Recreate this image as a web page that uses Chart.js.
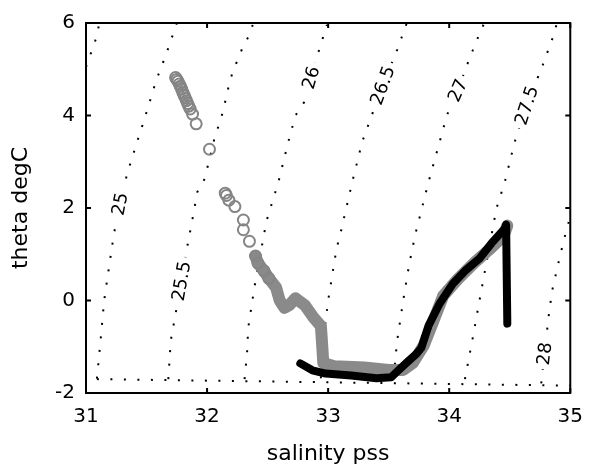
<!DOCTYPE html>
<html>
<head>
<meta charset="utf-8">
<script src="https://cdn.jsdelivr.net/npm/chart.js@4"></script>
<style>
  html, body { margin: 0; padding: 0; background: #fff; }
  #ts { display: block; }
</style>
</head>
<body>
<canvas id="ts" width="595" height="468"></canvas>
<script>
// T-S diagram: theta vs salinity with sigma-theta isopycnals

const xTicks = [31, 32, 33, 34, 35];
const yTicks = [-2, 0, 2, 4, 6];

// gray open circles (upper part of profile)
const circSal   = [31.74, 31.75, 31.76, 31.77, 31.78, 31.79, 31.80, 31.81, 31.82, 31.83, 31.84, 31.85, 31.86, 31.88, 31.91, 32.02, 32.15, 32.16, 32.18, 32.23, 32.30, 32.30, 32.35, 32.40, 32.42, 32.47, 32.51];
const circTheta = [4.82, 4.78, 4.74, 4.68, 4.63, 4.57, 4.50, 4.44, 4.38, 4.32, 4.26, 4.20, 4.14, 4.03, 3.82, 3.27, 2.32, 2.27, 2.17, 2.03, 1.74, 1.53, 1.28, 0.96, 0.81, 0.64, 0.48];

// gray dense band (lower part of profile)
const bandSal   = [32.40, 32.42, 32.47, 32.51, 32.57, 32.60, 32.64, 32.68, 32.73, 32.81, 32.88, 32.94, 32.95, 32.96, 33.05, 33.30, 33.50, 33.62, 33.70, 33.79, 33.87, 33.95, 34.07, 34.21, 34.33, 34.45, 34.48];
const bandTheta = [0.96, 0.81, 0.64, 0.48, 0.28, 0.00, -0.16, -0.10, 0.05, -0.11, -0.37, -0.55, -0.93, -1.35, -1.42, -1.45, -1.50, -1.50, -1.35, -0.97, -0.44, 0.10, 0.46, 0.82, 1.10, 1.40, 1.62];

// black profile
const blackSal   = [32.77, 32.87, 32.98, 33.19, 33.40, 33.52, 33.58, 33.65, 33.73, 33.77, 33.83, 33.92, 34.03, 34.13, 34.25, 34.35, 34.46, 34.47, 34.48];
const blackTheta = [-1.36, -1.51, -1.58, -1.62, -1.68, -1.66, -1.51, -1.34, -1.15, -1.02, -0.54, -0.07, 0.36, 0.64, 0.91, 1.24, 1.56, 1.64, -0.50];

// isopycnals
const isoNames = ["24.5", "25", "25.5", "26", "26.5", "27", "27.5", "28", "freeze"];
const isoSal = [
  [31.00, 31.05, 31.09, 31.11],
  [31.09, 31.12, 31.15, 31.19, 31.23, 31.28, 31.34, 31.41, 31.48, 31.58, 31.66, 31.75],
  [31.68, 31.70, 31.74, 31.84, 31.88, 31.92, 31.98, 32.06, 32.13, 32.18, 32.21, 32.30, 32.36, 32.38],
  [32.31, 32.33, 32.34, 32.39, 32.49, 32.59, 32.67, 32.73, 32.80, 32.91, 32.99],
  [32.94, 32.96, 33.00, 33.07, 33.10, 33.20, 33.28, 33.36, 33.45, 33.57, 33.65],
  [33.54, 33.57, 33.62, 33.67, 33.72, 33.83, 33.92, 33.98, 34.07, 34.17, 34.26, 34.29],
  [34.13, 34.19, 34.25, 34.31, 34.39, 34.46, 34.54, 34.64, 34.78, 34.86, 34.89],
  [34.76, 34.82, 34.85, 34.90, 34.95, 35.00],
  [31.09, 35.00]
];
const isoTheta = [
  [5.05, 5.42, 5.72, 6.00],
  [-1.69, -0.87, 0.00, 0.72, 1.43, 2.09, 2.74, 3.33, 3.90, 4.76, 5.31, 6.00],
  [-1.70, -0.87, -0.29, 1.21, 1.77, 2.35, 2.63, 3.49, 4.07, 4.65, 4.93, 5.51, 5.79, 6.00],
  [-1.70, -1.15, -0.59, 0.27, 1.71, 2.57, 3.42, 4.00, 4.28, 5.29, 5.96],
  [-1.68, -0.87, 0.00, 1.13, 1.43, 2.57, 3.42, 4.00, 4.65, 5.42, 6.00],
  [-1.68, -0.87, 0.00, 0.79, 1.43, 2.57, 3.42, 4.00, 4.54, 5.25, 5.83, 6.00],
  [-1.70, -0.87, 0.00, 0.85, 1.99, 2.57, 3.42, 4.22, 5.14, 5.72, 6.00],
  [-1.79, -0.37, 0.21, 0.79, 1.34, 1.82],
  [-1.70, -1.84]
];

// contour labels: which isopycnal, and the theta where the label sits
const labelIso   = [1, 2, 3, 4, 5, 6, 7];
const labelText  = ["25", "25.5", "26", "26.5", "27", "27.5", "28"];
const labelTheta = [2.09, 0.42, 4.82, 4.65, 4.54, 4.22, -1.15];

function pts(xs, ys) {
  return xs.map((x, i) => ({ x: x, y: ys[i] }));
}

const FONT = "'DejaVu Sans', 'Liberation Sans', sans-serif";

const datasets = [
  {
    data: pts(blackSal, blackTheta),
    showLine: true,
    borderColor: "#000",
    borderWidth: 8,
    borderCapStyle: "round",
    borderJoinStyle: "round",
    pointRadius: 0,
    order: 0
  },
  {
    data: pts(circSal, circTheta),
    showLine: false,
    pointRadius: 5.5,
    pointBorderWidth: 2,
    pointBorderColor: "#858585",
    pointBackgroundColor: "rgba(0,0,0,0)",
    order: 1
  },
  {
    data: pts(bandSal, bandTheta),
    showLine: true,
    borderColor: "#8a8a8a",
    borderWidth: 12,
    borderCapStyle: "round",
    borderJoinStyle: "round",
    pointRadius: 0,
    order: 2
  }
];

isoSal.forEach((s, i) => {
  datasets.push({
    data: pts(s, isoTheta[i]),
    showLine: true,
    borderColor: "#000",
    borderWidth: 2,
    borderDash: [2, 11.5],
    pointRadius: 0,
    order: 3
  });
});

// box, inward ticks and contour labels
const decor = {
  id: "decor",
  afterDatasetsDraw(chart) {
    const c = chart.ctx;
    const xs = chart.scales.x, ys = chart.scales.y;
    c.save();
    c.font = "18px " + FONT;
    c.textAlign = "center";
    c.textBaseline = "middle";
    labelIso.forEach((k, i) => {
      const th = labelTheta[i];
      const S = isoSal[k], T = isoTheta[k];
      let j = 0;
      while (j < T.length - 2 && T[j + 1] < th) j++;
      const f = (th - T[j]) / (T[j + 1] - T[j]);
      const sal = S[j] + f * (S[j + 1] - S[j]);
      const px = xs.getPixelForValue(sal), py = ys.getPixelForValue(th);
      let dx = xs.getPixelForValue(S[j + 1]) - xs.getPixelForValue(S[j]);
      let dy = ys.getPixelForValue(T[j + 1]) - ys.getPixelForValue(T[j]);
      const ang = Math.atan2(dy, dx);
      const w = c.measureText(labelText[i]).width;
      c.save();
      c.translate(px, py);
      c.rotate(ang);
      c.fillStyle = "#fff";
      c.fillRect(-w / 2 - 4, -8, w + 8, 16);
      c.fillStyle = "#000";
      c.fillText(labelText[i], 0, 1);
      c.restore();
    });
    c.restore();
  },
  afterDraw(chart) {
    const c = chart.ctx;
    const a = chart.chartArea;
    const xs = chart.scales.x, ys = chart.scales.y;
    c.save();
    c.strokeStyle = "#000";
    c.lineWidth = 2;
    c.strokeRect(a.left, a.top, a.right - a.left, a.bottom - a.top);
    c.beginPath();
    xTicks.forEach(v => {
      const x = xs.getPixelForValue(v);
      c.moveTo(x, a.bottom); c.lineTo(x, a.bottom - 5);
      c.moveTo(x, a.top); c.lineTo(x, a.top + 5);
    });
    yTicks.forEach(v => {
      const y = ys.getPixelForValue(v);
      c.moveTo(a.left, y); c.lineTo(a.left + 5, y);
      c.moveTo(a.right, y); c.lineTo(a.right - 5, y);
    });
    c.stroke();
    c.restore();
  }
};

const ctx = document.getElementById("ts").getContext("2d");
new Chart(ctx, {
  type: "scatter",
  data: { datasets: datasets },
  options: {
    responsive: false,
    animation: false,
    layout: { padding: { top: 20, right: 15, left: 0, bottom: 0 } },
    plugins: { legend: { display: false }, tooltip: { enabled: false } },
    scales: {
      x: {
        type: "linear",
        min: 31, max: 35,
        afterFit: (s) => { s.height = 75; },
        afterBuildTicks: (s) => { s.ticks = xTicks.map(v => ({ value: v })); },
        grid: { display: false, drawTicks: false },
        border: { display: false },
        ticks: { color: "#000", font: { family: FONT, size: 20 }, padding: 12 },
        title: { display: true, text: "salinity pss", color: "#000", font: { family: FONT, size: 22 }, padding: { top: 0, bottom: 1 } }
      },
      y: {
        type: "linear",
        min: -2, max: 6,
        afterFit: (s) => { s.width = 86; },
        afterBuildTicks: (s) => { s.ticks = yTicks.map(v => ({ value: v })); },
        grid: { display: false, drawTicks: false },
        border: { display: false },
        ticks: { color: "#000", font: { family: FONT, size: 20 }, padding: 11 },
        title: { display: true, text: "theta degC", color: "#000", font: { family: FONT, size: 22 }, padding: { top: 8, bottom: 0 } }
      }
    }
  },
  plugins: [decor]
});
</script>
</body>
</html>
